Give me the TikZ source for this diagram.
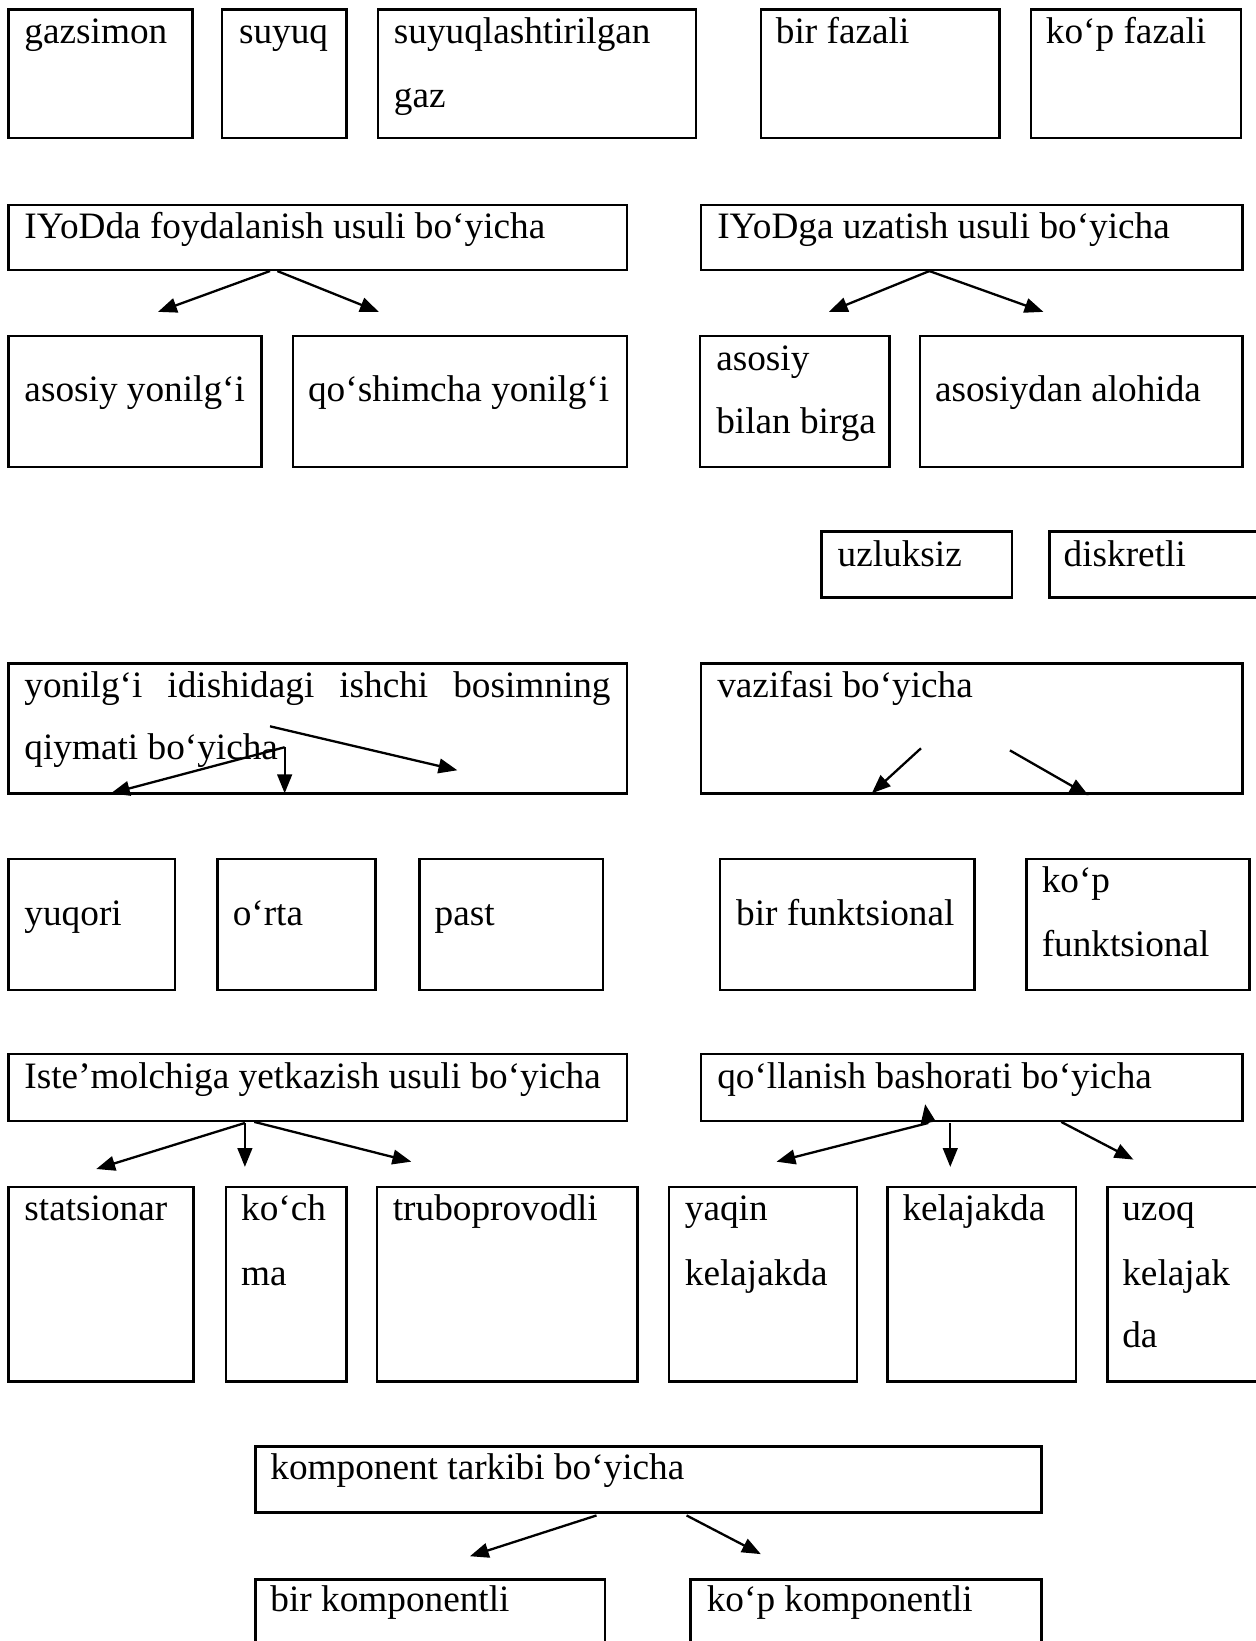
\documentclass[tikz,border=0pt]{standalone}
\usepackage{fontspec}
\setmainfont{Liberation Serif}
\usetikzlibrary{arrows.meta,fit}
\newcommand\dfont{\fontsize{17.8pt}{30.6pt}\selectfont}
\tikzset{
  box/.style={draw, line width=1.2pt, inner sep=0pt},
  lbl/.style={anchor=base west, inner sep=0pt, font=\dfont},
  arr/.style={line width=1.1pt, -{Triangle[length=9pt,width=7pt]}}
}
\begin{document}
\begin{tikzpicture}[x=0.5pt,y=-0.5pt]
\clip (0,0) rectangle (1200,1568);
\fill[white] (0,0) rectangle (1200,1568);
% row 1
\node[box, fit={(8,9) (184,132)}] (a1) {};
\node[box, fit={(212,9) (331,132)}] (a2) {};
\node[box, fit={(361,9) (665,132)}] (a3) {};
\node[box, fit={(727,9) (955,132)}] (a4) {};
\node[box, fit={(985,9) (1186,132)}] (a5) {};
\node[lbl] (a1t) at (23,41.5) {gazsimon};
\node[lbl] (a2t) at (228,41.5) {suyuq};
\node[lbl] (a3t) at (376,41.5) {suyuqlashtirilgan};
\node[lbl] (a3u) at (376,102.5) {gaz};
\node[lbl] (a4t) at (741,41.5) {bir fazali};
\node[lbl] (a5t) at (999,41.5) {ko‘p fazali};
% row 2
\node[box, fit={(8,196) (599,258)}] (b1) {};
\node[box, fit={(670,196) (1187,258)}] (b2) {};
\node[lbl] (b1t) at (23,228) {IYoDda foydalanish usuli bo‘yicha};
\node[lbl] (b2t) at (685,228) {IYoDga uzatish usuli bo‘yicha};
% row 3
\node[box, fit={(8,321) (250,446)}] (c1) {};
\node[box, fit={(280,321) (599,446)}] (c2) {};
\node[box, fit={(669,321) (850,446)}] (c3) {};
\node[box, fit={(879,321) (1187,446)}] (c4) {};
\node[lbl] (c1t) at (23,384) {asosiy yonilg‘i};
\node[lbl] (c2t) at (294,384) {qo‘shimcha yonilg‘i};
\node[lbl] (c3t) at (684,354) {asosiy};
\node[lbl] (c3u) at (684,414) {bilan birga};
\node[lbl] (c4t) at (893,384) {asosiydan alohida};
% row 4
\node[box, fit={(785,508) (967,571)}] (d1) {};
\node[box, fit={(1003,508) (1240,571)}] (d2) {};
\node[lbl] (d1t) at (800,541) {uzluksiz};
\node[lbl] (d2t) at (1016,541) {diskretli};
% row 5
\node[box, fit={(8,634) (599,758)}] (e1) {};
\node[box, fit={(670,634) (1187,758)}] (e2) {};
\node[lbl] (e1t) at (23,666) {\makebox[280pt][s]{yonilg‘i idishidagi ishchi bosimning}};
\node[lbl] (e1u) at (23,726) {qiymati bo‘yicha};
\node[lbl] (e2t) at (685,666) {vazifasi bo‘yicha};
% row 6
\node[box, fit={(8,821) (167,946)}] (f1) {};
\node[box, fit={(208,821) (359,946)}] (f2) {};
\node[box, fit={(401,821) (576,946)}] (f3) {};
\node[box, fit={(688,821) (931,946)}] (f4) {};
\node[box, fit={(981,821) (1194,946)}] (f5) {};
\node[lbl] (f1t) at (23,884) {yuqori};
\node[lbl] (f2t) at (222,884) {o‘rta};
\node[lbl] (f3t) at (415,884) {past};
\node[lbl] (f4t) at (703,884) {bir funktsional};
\node[lbl] (f5t) at (995,853) {ko‘p};
\node[lbl] (f5u) at (995,914) {funktsional};
% row 7
\node[box, fit={(8,1007) (599,1071)}] (g1) {};
\node[box, fit={(670,1007) (1187,1071)}] (g2) {};
\node[lbl] (g1t) at (23,1040) {Iste’molchiga yetkazish usuli bo‘yicha};
\node[lbl] (g2t) at (685,1040) {qo‘llanish bashorati bo‘yicha};
% row 8
\node[box, fit={(8,1134) (185,1320)}] (h1) {};
\node[box, fit={(216,1134) (331,1320)}] (h2) {};
\node[box, fit={(360,1134) (609,1320)}] (h3) {};
\node[box, fit={(639,1134) (819,1320)}] (h4) {};
\node[box, fit={(848,1134) (1028,1320)}] (h5) {};
\node[box, fit={(1058,1134) (1240,1320)}] (h6) {};
\node[lbl] (h1t) at (23,1166) {statsionar};
\node[lbl] (h2t) at (230,1166) {ko‘ch};
\node[lbl] (h2u) at (230,1228) {ma};
\node[lbl] (h3t) at (375,1166) {truboprovodli};
\node[lbl] (h4t) at (654,1166) {yaqin};
\node[lbl] (h4u) at (654,1228) {kelajakda};
\node[lbl] (h5t) at (862,1166) {kelajakda};
\node[lbl] (h6t) at (1072,1166) {uzoq};
\node[lbl] (h6u) at (1072,1228) {kelajak};
\node[lbl] (h6v) at (1072,1288) {da};
% row 9
\node[box, fit={(244,1382) (995,1445)}] (i1) {};
\node[lbl] (i1t) at (258,1414) {komponent tarkibi bo‘yicha};
\node[box, fit={(244,1509) (578,1620)}] (j1) {};
\node[box, fit={(660,1509) (995,1620)}] (j2) {};
\node[lbl] (j1t) at (258,1540) {bir komponentli};
\node[lbl] (j2t) at (675,1540) {ko‘p komponentli};
% arrow coordinates
\coordinate (b1s1) at (258,259); \coordinate (b1e1) at (151,298);
\coordinate (b1s2) at (265,259); \coordinate (b1e2) at (362,298);
\coordinate (b2s) at (888,259); \coordinate (b2e1) at (792,298); \coordinate (b2e2) at (997,298);
\coordinate (e1s1) at (258,694); \coordinate (e1e1) at (437,736);
\coordinate (e1s2) at (272,714); \coordinate (e1e2) at (106,758); \coordinate (e1e3) at (272,758);
\coordinate (e2s1) at (880,715); \coordinate (e2e1) at (833,758);
\coordinate (e2s2) at (965,717); \coordinate (e2e2) at (1040,760);
\coordinate (g1s) at (234,1073); \coordinate (g1e1) at (92,1117); \coordinate (g1e2) at (234,1115);
\coordinate (g1s3) at (243,1072); \coordinate (g1e3) at (393,1110);
\coordinate (g2s) at (887,1073); \coordinate (g2up) at (884,1055); \coordinate (g2e1) at (742,1110);
\coordinate (g2s2) at (908,1073); \coordinate (g2e2) at (908,1115);
\coordinate (g2s3) at (1014,1072); \coordinate (g2e3) at (1083,1108);
\coordinate (i1s1) at (570,1448); \coordinate (i1e1) at (449,1487);
\coordinate (i1s2) at (656,1448); \coordinate (i1e2) at (727,1485);
% arrows
\draw[arr] (b1s1) -- (b1e1);
\draw[arr] (b1s2) -- (b1e2);
\draw[arr] (b2s) -- (b2e1);
\draw[arr] (b2s) -- (b2e2);
\draw[arr] (e1s1) -- (e1e1);
\draw[arr] (e1s2) -- (e1e2);
\draw[arr] (e1s2) -- (e1e3);
\draw[arr] (e2s1) -- (e2e1);
\draw[arr] (e2s2) -- (e2e2);
\draw[arr] (g1s) -- (g1e1);
\draw[arr] (g1s) -- (g1e2);
\draw[arr] (g1s3) -- (g1e3);
\draw[arr] (g2s) -- (g2e1);
\draw[arr] (g2s) -- (g2up);
\draw[arr] (g2s2) -- (g2e2);
\draw[arr] (g2s3) -- (g2e3);
\draw[arr] (i1s1) -- (i1e1);
\draw[arr] (i1s2) -- (i1e2);
\end{tikzpicture}
\end{document}
